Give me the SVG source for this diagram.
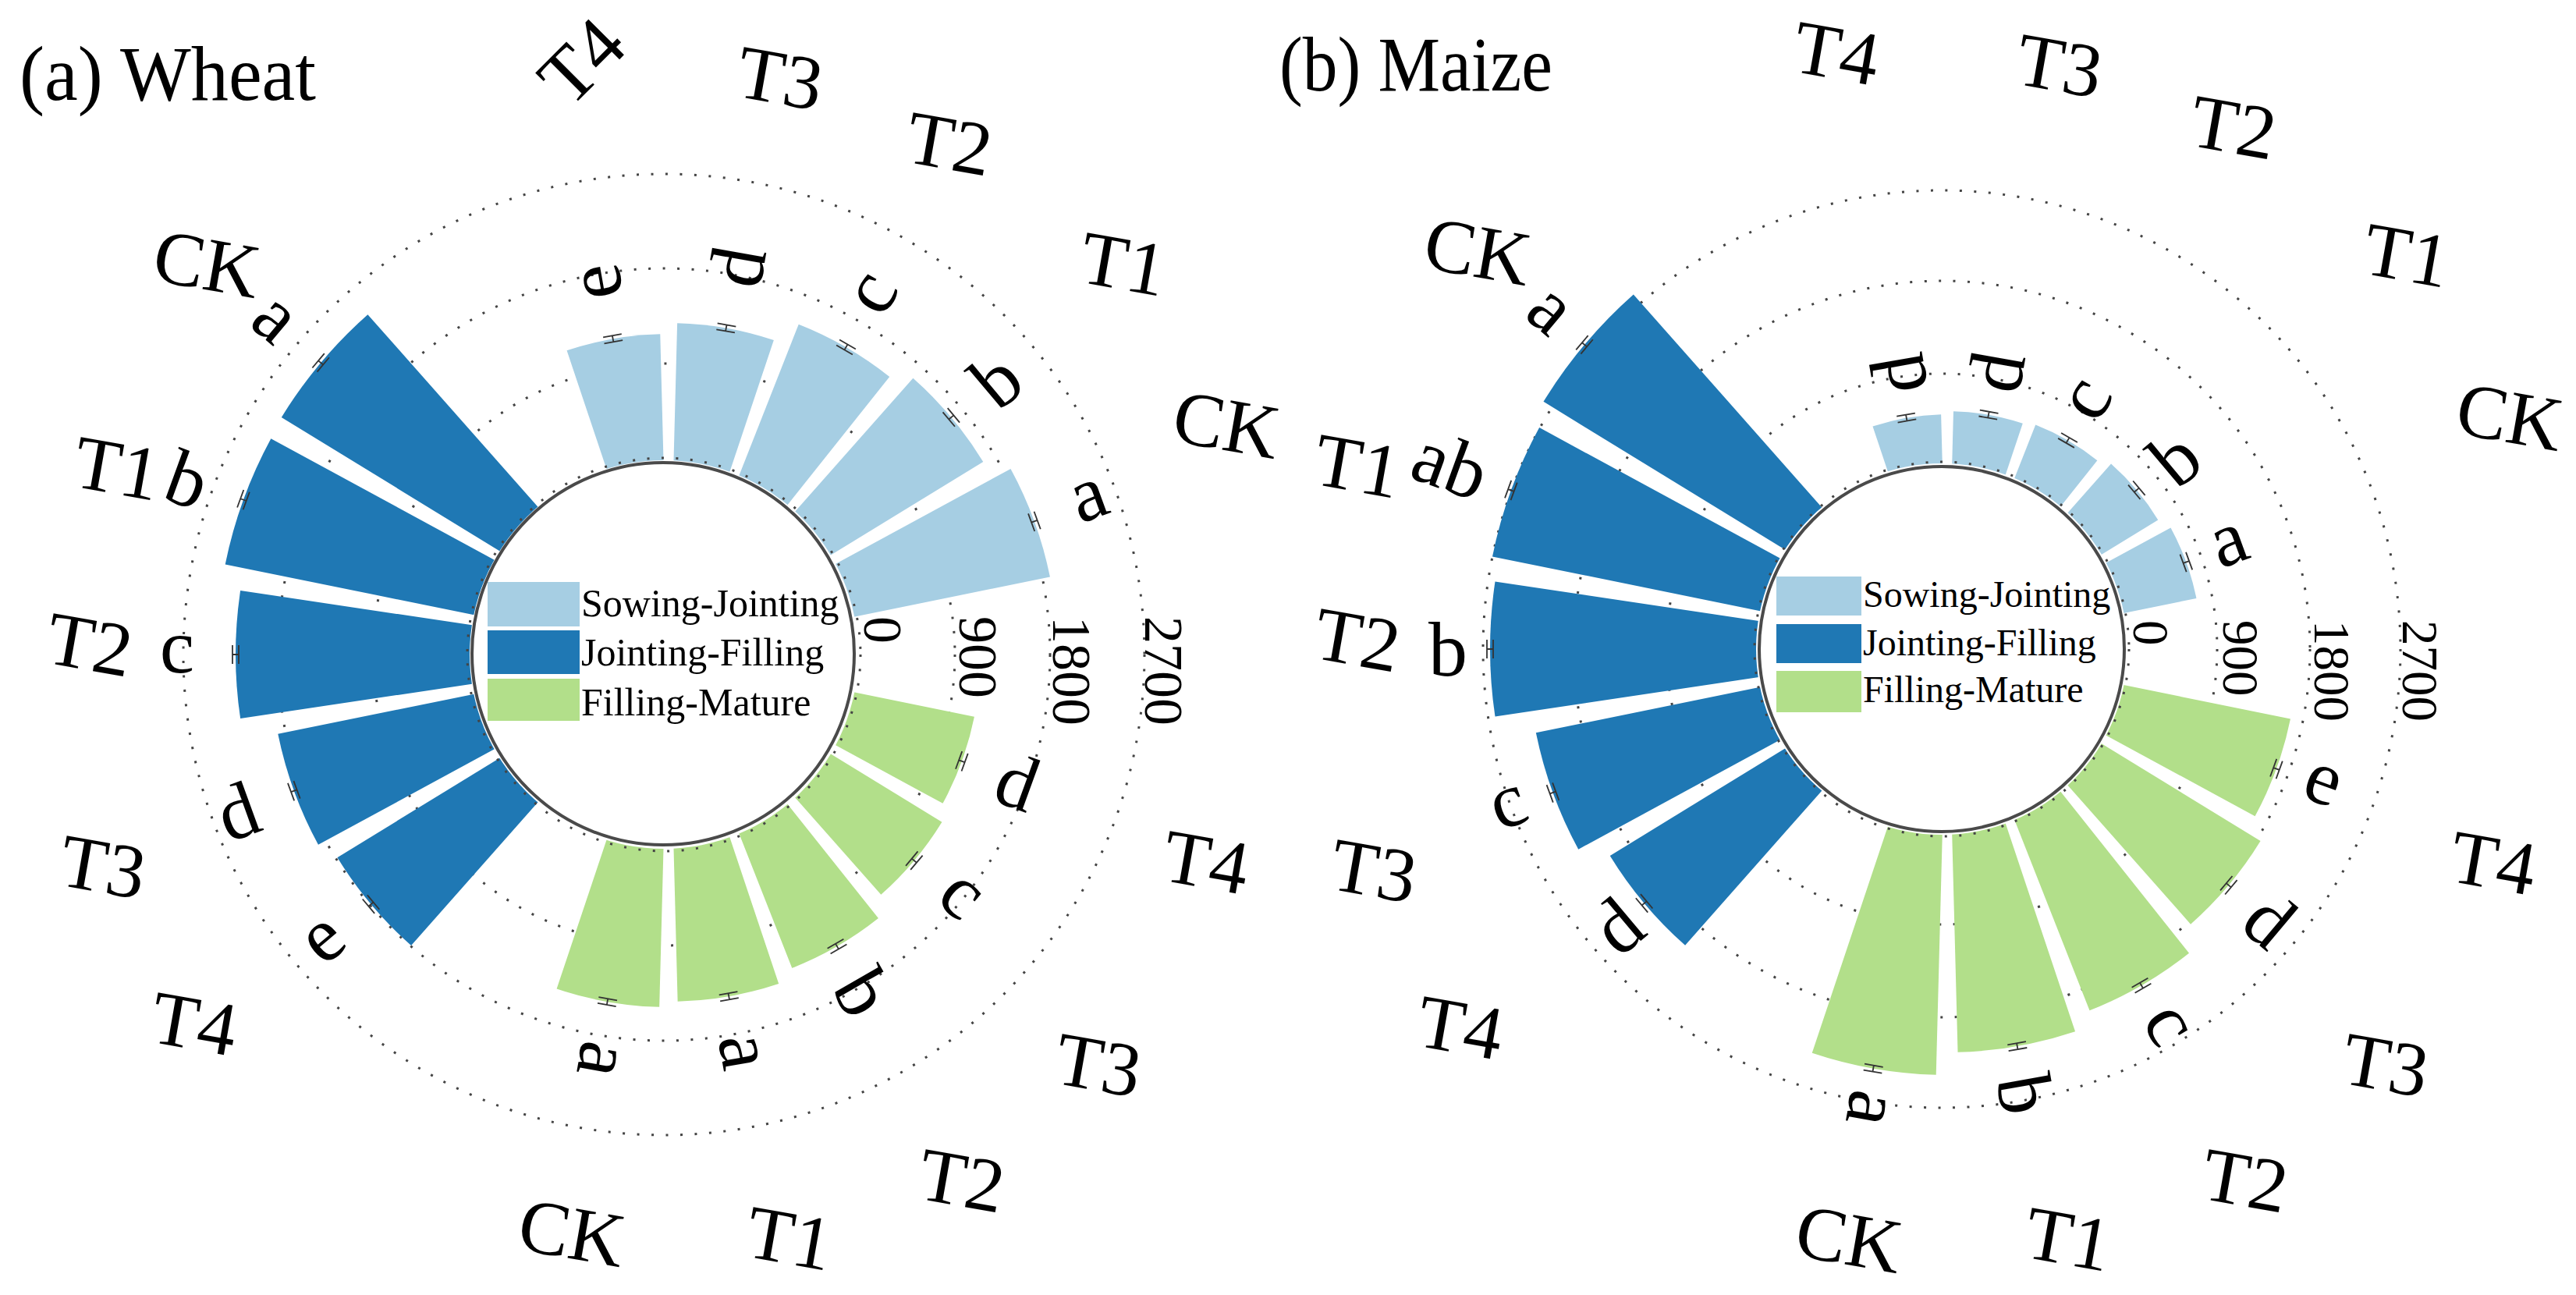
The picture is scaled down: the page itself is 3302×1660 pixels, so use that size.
<svg xmlns="http://www.w3.org/2000/svg" width="3302" height="1660" viewBox="0 0 3302 1660">
<style>
.lb{fill:#a6cee3}.db{fill:#1f78b4}.gr{fill:#b2df8a}
text{font-family:"Liberation Serif","Times New Roman",serif;fill:#000}
.lt{font-size:100px;text-anchor:middle}
.ol{font-size:98px;text-anchor:middle}
.ax{font-size:70px}
.axm{font-size:65px}
.lg{font-size:50px}
.lgm{font-size:48px}
.ttl{font-size:100px}
.ring{fill:none;stroke:#444;stroke-width:3;stroke-dasharray:3 15.5}
.eb{fill:none;stroke:#333;stroke-width:1.8}
.inner{fill:none;stroke:#4a4a4a;stroke-width:4}
</style>
<defs>
<path id="w" d="M0,0L-0.147809,-0.988936A1,1 0 0 1 0.147809,-0.988936Z"/>
<path id="eb" d="M-12,-4h24M-12,4h24M0,-4v8"/>
<mask id="gap" maskUnits="userSpaceOnUse" x="-800" y="-800" width="1600" height="1600">
<rect x="-800" y="-800" width="1600" height="1600" fill="#fff"/>
<g stroke="#000" stroke-width="7">
<line x1="0" y1="-800" x2="0" y2="800"/>
<line x1="0" y1="-800" x2="0" y2="800" transform="rotate(20)"/>
<line x1="0" y1="-800" x2="0" y2="800" transform="rotate(40)"/>
<line x1="0" y1="-800" x2="0" y2="800" transform="rotate(60)"/>
<line x1="0" y1="-800" x2="0" y2="800" transform="rotate(80)"/>
<line x1="0" y1="-800" x2="0" y2="800" transform="rotate(100)"/>
<line x1="0" y1="-800" x2="0" y2="800" transform="rotate(120)"/>
<line x1="0" y1="-800" x2="0" y2="800" transform="rotate(140)"/>
<line x1="0" y1="-800" x2="0" y2="800" transform="rotate(160)"/>
</g>
</mask>
</defs>
<rect width="3302" height="1660" fill="#fff"/>

<!-- ================= WHEAT ================= -->
<text class="ttl" x="25" y="128" textLength="380" lengthAdjust="spacingAndGlyphs">(a) Wheat</text>
<g id="wheat-grid">
<circle class="ring" cx="851" cy="839" r="373"/>
<circle class="ring" cx="851" cy="839" r="495"/>
<circle class="ring" cx="851" cy="839" r="616"/>
</g>
<g id="wheat-bars" transform="translate(857,839)">
<g id="wheat-sj-T4"><g mask="url(#gap)"><use href="#w" class="lb" transform="rotate(-10) scale(411)"/></g><use href="#eb" class="eb" transform="rotate(-10) translate(0,-411)"/><text class="lt" transform="rotate(-10) translate(0,-486) rotate(-90)" y="23">e</text></g>
<g id="wheat-sj-T3"><g mask="url(#gap)"><use href="#w" class="lb" transform="rotate(10) scale(425)"/></g><use href="#eb" class="eb" transform="rotate(10) translate(0,-425)"/><text class="lt" transform="rotate(10) translate(0,-505) rotate(-90)" y="34">d</text></g>
<g id="wheat-sj-T2"><g mask="url(#gap)"><use href="#w" class="lb" transform="rotate(30) scale(455)"/></g><use href="#eb" class="eb" transform="rotate(30) translate(0,-455)"/><text class="lt" transform="rotate(30) translate(0,-532) rotate(-90)" y="23">c</text></g>
<g id="wheat-sj-T1"><g mask="url(#gap)"><use href="#w" class="lb" transform="rotate(50) scale(473)"/></g><use href="#eb" class="eb" transform="rotate(50) translate(0,-473)"/><text class="lt" transform="rotate(50) translate(0,-548) rotate(-90)" y="34">b</text></g>
<g id="wheat-sj-CK"><g mask="url(#gap)"><use href="#w" class="lb" transform="rotate(70) scale(499)"/></g><use href="#eb" class="eb" transform="rotate(70) translate(0,-499)"/><text class="lt" transform="rotate(70) translate(0,-575) rotate(-90)" y="23">a</text></g>

<g id="wheat-fm-T4"><g mask="url(#gap)"><use href="#w" class="gr" transform="rotate(110) scale(400)"/></g><use href="#eb" class="eb" transform="rotate(110) translate(0,-400)"/><text class="lt" transform="rotate(110) translate(0,-476) rotate(-90)" y="34">d</text></g>
<g id="wheat-fm-T3"><g mask="url(#gap)"><use href="#w" class="gr" transform="rotate(130) scale(411)"/></g><use href="#eb" class="eb" transform="rotate(130) translate(0,-411)"/><text class="lt" transform="rotate(130) translate(0,-486) rotate(-90)" y="23">c</text></g>
<g id="wheat-fm-T2"><g mask="url(#gap)"><use href="#w" class="gr" transform="rotate(150) scale(432)"/></g><use href="#eb" class="eb" transform="rotate(150) translate(0,-432)"/><text class="lt" transform="rotate(150) translate(0,-500) rotate(-90)" y="34">b</text></g>
<g id="wheat-fm-T1"><g mask="url(#gap)"><use href="#w" class="gr" transform="rotate(170) scale(445)"/></g><use href="#eb" class="eb" transform="rotate(170) translate(0,-445)"/><text class="lt" transform="rotate(170) translate(0,-518) rotate(-90)" y="23">a</text></g>
<g id="wheat-fm-CK"><g mask="url(#gap)"><use href="#w" class="gr" transform="rotate(190) scale(452)"/></g><use href="#eb" class="eb" transform="rotate(190) translate(0,-452)"/><text class="lt" transform="rotate(190) translate(0,-526) rotate(-90)" y="23">a</text></g>

<g id="wheat-jf-T4"><g mask="url(#gap)"><use href="#w" class="db" transform="rotate(230) scale(498)"/></g><use href="#eb" class="eb" transform="rotate(230) translate(0,-498)"/><text class="lt" transform="rotate(230) translate(0,-574) rotate(90)" y="23">e</text></g>
<g id="wheat-jf-T3"><g mask="url(#gap)"><use href="#w" class="db" transform="rotate(250) scale(511)"/></g><use href="#eb" class="eb" transform="rotate(250) translate(0,-511)"/><text class="lt" transform="rotate(250) translate(0,-588) rotate(90)" y="34">d</text></g>
<g id="wheat-jf-T2"><g mask="url(#gap)"><use href="#w" class="db" transform="rotate(270) scale(555)"/></g><use href="#eb" class="eb" transform="rotate(270) translate(0,-555)"/><text class="lt" transform="rotate(270) translate(0,-630) rotate(90)" y="23">c</text></g>
<g id="wheat-jf-T1"><g mask="url(#gap)"><use href="#w" class="db" transform="rotate(290) scale(580)"/></g><use href="#eb" class="eb" transform="rotate(290) translate(0,-580)"/><text class="lt" transform="rotate(290) translate(0,-656) rotate(90)" y="34">b</text></g>
<g id="wheat-jf-CK"><g mask="url(#gap)"><use href="#w" class="db" transform="rotate(310) scale(582)"/></g><use href="#eb" class="eb" transform="rotate(310) translate(0,-582)"/><text class="lt" transform="rotate(310) translate(0,-663) rotate(90)" y="23">a</text></g>
</g>
<g id="wheat-center">
<circle cx="851" cy="839" r="249" fill="#fff"/>
<circle class="ring" cx="851" cy="839" r="252"/>
<circle class="inner" cx="850" cy="838" r="245"/>
</g>
<g id="wheat-legend">
<rect class="lb" x="625" y="746" width="118" height="57"/>
<rect class="db" x="625" y="808" width="118" height="56"/>
<rect class="gr" x="625" y="870" width="118" height="54"/>
<text class="lg" x="745" y="790">Sowing-Jointing</text>
<text class="lg" x="745" y="853">Jointing-Filling</text>
<text class="lg" x="745" y="917">Filling-Mature</text>
</g>
<g id="wheat-axis">
<text class="ax" transform="translate(1108,790) rotate(90)">0</text>
<text class="ax" transform="translate(1230,790) rotate(90)">900</text>
<text class="ax" transform="translate(1350,790) rotate(90)">1800</text>
<text class="ax" transform="translate(1468,790) rotate(90)">2700</text>
</g>
<g id="wheat-labels">
<text class="ol" transform="translate(746,79) rotate(-45)" y="32">T4</text>
<text class="ol" transform="translate(1000,101) rotate(10)" y="32">T3</text>
<text class="ol" transform="translate(1217,185) rotate(10)" y="32">T2</text>
<text class="ol" transform="translate(1440,339) rotate(10)" y="32">T1</text>
<text class="ol" transform="translate(1572,545) rotate(10)" y="32">CK</text>
<text class="ol" transform="translate(1546,1106) rotate(10)" y="32">T4</text>
<text class="ol" transform="translate(1408,1366) rotate(10)" y="32">T3</text>
<text class="ol" transform="translate(1233,1514) rotate(10)" y="32">T2</text>
<text class="ol" transform="translate(1012,1588) rotate(10)" y="32">T1</text>
<text class="ol" transform="translate(733,1581) rotate(10)" y="32">CK</text>
<text class="ol" transform="translate(249,1313) rotate(10)" y="32">T4</text>
<text class="ol" transform="translate(132,1112) rotate(10)" y="32">T3</text>
<text class="ol" transform="translate(115,827) rotate(10)" y="32">T2</text>
<text class="ol" transform="translate(150,601) rotate(10)" y="32">T1</text>
<text class="ol" transform="translate(265,339) rotate(10)" y="32">CK</text>
</g>

<!-- ================= MAIZE ================= -->
<text class="ttl" x="1640" y="116" textLength="350" lengthAdjust="spacingAndGlyphs">(b) Maize</text>
<g id="maize-grid">
<circle class="ring" cx="2489" cy="832" r="353"/>
<circle class="ring" cx="2489" cy="832" r="472"/>
<circle class="ring" cx="2489" cy="832" r="588"/>
</g>
<g id="maize-bars" transform="translate(2496,832)">
<g id="maize-sj-T4"><g mask="url(#gap)"><use href="#w" class="lb" transform="rotate(-10) scale(301)"/></g><use href="#eb" class="eb" transform="rotate(-10) translate(0,-301)"/><text class="lt" transform="rotate(-10) translate(0,-358) rotate(-90)" y="34">d</text></g>
<g id="maize-sj-T3"><g mask="url(#gap)"><use href="#w" class="lb" transform="rotate(10) scale(305)"/></g><use href="#eb" class="eb" transform="rotate(10) translate(0,-305)"/><text class="lt" transform="rotate(10) translate(0,-361) rotate(-90)" y="34">d</text></g>
<g id="maize-sj-T2"><g mask="url(#gap)"><use href="#w" class="lb" transform="rotate(30) scale(309)"/></g><use href="#eb" class="eb" transform="rotate(30) translate(0,-309)"/><text class="lt" transform="rotate(30) translate(0,-367) rotate(-90)" y="23">c</text></g>
<g id="maize-sj-T1"><g mask="url(#gap)"><use href="#w" class="lb" transform="rotate(50) scale(317)"/></g><use href="#eb" class="eb" transform="rotate(50) translate(0,-317)"/><text class="lt" transform="rotate(50) translate(0,-381) rotate(-90)" y="34">b</text></g>
<g id="maize-sj-CK"><g mask="url(#gap)"><use href="#w" class="lb" transform="rotate(70) scale(326)"/></g><use href="#eb" class="eb" transform="rotate(70) translate(0,-326)"/><text class="lt" transform="rotate(70) translate(0,-386) rotate(-90)" y="23">a</text></g>

<g id="maize-fm-T4"><g mask="url(#gap)"><use href="#w" class="gr" transform="rotate(110) scale(449)"/></g><use href="#eb" class="eb" transform="rotate(110) translate(0,-449)"/><text class="lt" transform="rotate(110) translate(0,-511) rotate(-90)" y="23">e</text></g>
<g id="maize-fm-T3"><g mask="url(#gap)"><use href="#w" class="gr" transform="rotate(130) scale(471)"/></g><use href="#eb" class="eb" transform="rotate(130) translate(0,-471)"/><text class="lt" transform="rotate(130) translate(0,-540) rotate(-90)" y="34">d</text></g>
<g id="maize-fm-T2"><g mask="url(#gap)"><use href="#w" class="gr" transform="rotate(150) scale(498)"/></g><use href="#eb" class="eb" transform="rotate(150) translate(0,-498)"/><text class="lt" transform="rotate(150) translate(0,-559) rotate(-90)" y="23">c</text></g>
<g id="maize-fm-T1"><g mask="url(#gap)"><use href="#w" class="gr" transform="rotate(170) scale(517)"/></g><use href="#eb" class="eb" transform="rotate(170) translate(0,-517)"/><text class="lt" transform="rotate(170) translate(0,-579) rotate(-90)" y="34">b</text></g>
<g id="maize-fm-CK"><g mask="url(#gap)"><use href="#w" class="gr" transform="rotate(190) scale(546)"/></g><use href="#eb" class="eb" transform="rotate(190) translate(0,-546)"/><text class="lt" transform="rotate(190) translate(0,-597) rotate(-90)" y="23">a</text></g>

<g id="maize-jf-T4"><g mask="url(#gap)"><use href="#w" class="db" transform="rotate(230) scale(507)"/></g><use href="#eb" class="eb" transform="rotate(230) translate(0,-507)"/><text class="lt" transform="rotate(230) translate(0,-552) rotate(90)" y="34">d</text></g>
<g id="maize-jf-T3"><g mask="url(#gap)"><use href="#w" class="db" transform="rotate(250) scale(538)"/></g><use href="#eb" class="eb" transform="rotate(250) translate(0,-538)"/><text class="lt" transform="rotate(250) translate(0,-597) rotate(90)" y="23">c</text></g>
<g id="maize-jf-T2"><g mask="url(#gap)"><use href="#w" class="db" transform="rotate(270) scale(586)"/></g><use href="#eb" class="eb" transform="rotate(270) translate(0,-586)"/><text class="lt" transform="rotate(270) translate(0,-640) rotate(90)" y="34">b</text></g>
<g id="maize-jf-T1"><g mask="url(#gap)"><use href="#w" class="db" transform="rotate(290) scale(595)"/></g><use href="#eb" class="eb" transform="rotate(290) translate(0,-595)"/><text class="lt" transform="rotate(290) translate(0,-679) rotate(90)" y="29">ab</text></g>
<g id="maize-jf-CK"><g mask="url(#gap)"><use href="#w" class="db" transform="rotate(310) scale(607)"/></g><use href="#eb" class="eb" transform="rotate(310) translate(0,-607)"/><text class="lt" transform="rotate(310) translate(0,-669) rotate(90)" y="23">a</text></g>
</g>
<g id="maize-center">
<circle cx="2489" cy="832" r="238" fill="#fff"/>
<circle class="ring" cx="2489" cy="832" r="240"/>
<circle class="inner" cx="2489" cy="832" r="234"/>
</g>
<g id="maize-legend">
<rect class="lb" x="2277" y="739" width="109" height="50"/>
<rect class="db" x="2277" y="800" width="109" height="50"/>
<rect class="gr" x="2277" y="860" width="109" height="53"/>
<text class="lgm" x="2388" y="778">Sowing-Jointing</text>
<text class="lgm" x="2388" y="840">Jointing-Filling</text>
<text class="lgm" x="2388" y="900">Filling-Mature</text>
</g>
<g id="maize-axis">
<text class="axm" transform="translate(2735,795) rotate(90)">0</text>
<text class="axm" transform="translate(2850,795) rotate(90)">900</text>
<text class="axm" transform="translate(2967,795) rotate(90)">1800</text>
<text class="axm" transform="translate(3080,795) rotate(90)">2700</text>
</g>
<g id="maize-labels">
<text class="ol" transform="translate(2354,69) rotate(10)" y="32">T4</text>
<text class="ol" transform="translate(2640,85) rotate(10)" y="32">T3</text>
<text class="ol" transform="translate(2863,164) rotate(10)" y="32">T2</text>
<text class="ol" transform="translate(3085,328) rotate(10)" y="32">T1</text>
<text class="ol" transform="translate(3217,535) rotate(10)" y="32">CK</text>
<text class="ol" transform="translate(3196,1107) rotate(10)" y="32">T4</text>
<text class="ol" transform="translate(3058,1366) rotate(10)" y="32">T3</text>
<text class="ol" transform="translate(2878,1514) rotate(10)" y="32">T2</text>
<text class="ol" transform="translate(2651,1589) rotate(10)" y="32">T1</text>
<text class="ol" transform="translate(2370,1589) rotate(10)" y="32">CK</text>
<text class="ol" transform="translate(1872,1318) rotate(10)" y="32">T4</text>
<text class="ol" transform="translate(1761,1117) rotate(10)" y="32">T3</text>
<text class="ol" transform="translate(1740,821) rotate(10)" y="32">T2</text>
<text class="ol" transform="translate(1740,598) rotate(10)" y="32">T1</text>
<text class="ol" transform="translate(1894,323) rotate(10)" y="32">CK</text>
</g>
</svg>
